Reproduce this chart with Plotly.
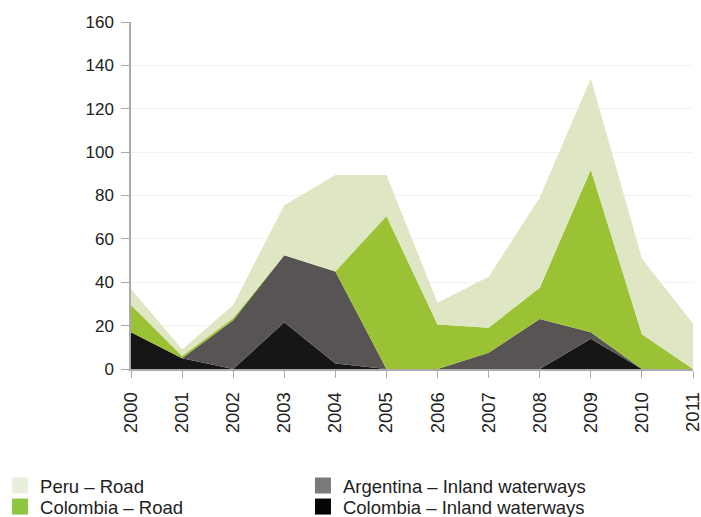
import plotly.graph_objects as go

# --- data (stacked areas) ---
years = [2000, 2001, 2002, 2003, 2004, 2005, 2006, 2007, 2008, 2009, 2010, 2011]
colombia_inland = [17, 5, 0, 21.5, 2.5, 0, 0, 0, 0, 14, 0, 0]
argentina_inland = [0, 0, 22.5, 31, 42.5, 0, 0, 7.5, 23, 3, 0, 0]
colombia_road = [12.5, 1, 1, 0, 0, 70.5, 20.5, 11.5, 14.5, 75, 16, 0]
peru_road = [7.5, 3, 6, 23, 44.5, 19, 10, 23.5, 41.5, 42, 35, 21]

# name, values, area colour, legend swatch colour, legend id
series = [
    ("Colombia – Inland waterways", colombia_inland, "#161616", "#050505", "legend4"),
    ("Argentina – Inland waterways", argentina_inland, "#595454", "#7a7a7a", "legend3"),
    ("Colombia – Road", colombia_road, "#9bc234", "#8dc63f", "legend2"),
    ("Peru – Road", peru_road, "#dfe6c3", "#e8f0dc", "legend"),
]

fig = go.Figure()
for name, vals, color, swatch, leg in series:
    fig.add_trace(go.Scatter(
        x=years, y=vals, name=name, mode="lines",
        stackgroup="one", line=dict(width=0, color=color),
        fillcolor=color, showlegend=False, hoverinfo="x+y+name"))
    # square legend swatch
    fig.add_trace(go.Scatter(
        x=[None], y=[None], name=name, mode="markers",
        marker=dict(symbol="square", size=17, color=swatch),
        legend=leg, hoverinfo="skip"))

family = "Liberation Sans, Arial, sans-serif"
leg_font = dict(family=family, size=18.5, color="#222")
leg_common = dict(xanchor="left", yanchor="top", orientation="v",
                  font=leg_font, tracegroupgap=0, itemwidth=30,
                  bgcolor="rgba(0,0,0,0)")

fig.update_layout(
    width=701, height=517,
    margin=dict(l=131, r=8, t=22, b=148, autoexpand=False),
    plot_bgcolor="white", paper_bgcolor="white",
    font=dict(family=family, size=17, color="#222"),
    showlegend=True,
    legend=dict(x=-0.233, y=-0.282, **leg_common),
    legend2=dict(x=-0.233, y=-0.343, **leg_common),
    legend3=dict(x=0.306, y=-0.282, **leg_common),
    legend4=dict(x=0.306, y=-0.343, **leg_common),
)
fig.update_xaxes(
    range=[2000, 2011], tickvals=years, ticktext=[str(y) for y in years],
    tickangle=-90, ticks="outside", ticklen=7, tickcolor="#aaa",
    tickfont=dict(size=18.5), ticklabelstandoff=7,
    showline=True, linecolor="#aaa", linewidth=1.5,
    showgrid=False, zeroline=False, ticklabeloverflow="allow",
)
fig.update_yaxes(
    range=[0, 160], dtick=20, ticks="outside", ticklen=8, tickcolor="#aaa",
    ticklabelstandoff=4,
    showline=True, linecolor="#aaa", linewidth=1.5,
    showgrid=True, gridcolor="#f1f1f1", zeroline=False,
)

# drop the default 8px page margin so the figure fills the window exactly
fig.write_html("out.html", config={"displayModeBar": False},
               post_script="document.body.style.margin='0px';")
